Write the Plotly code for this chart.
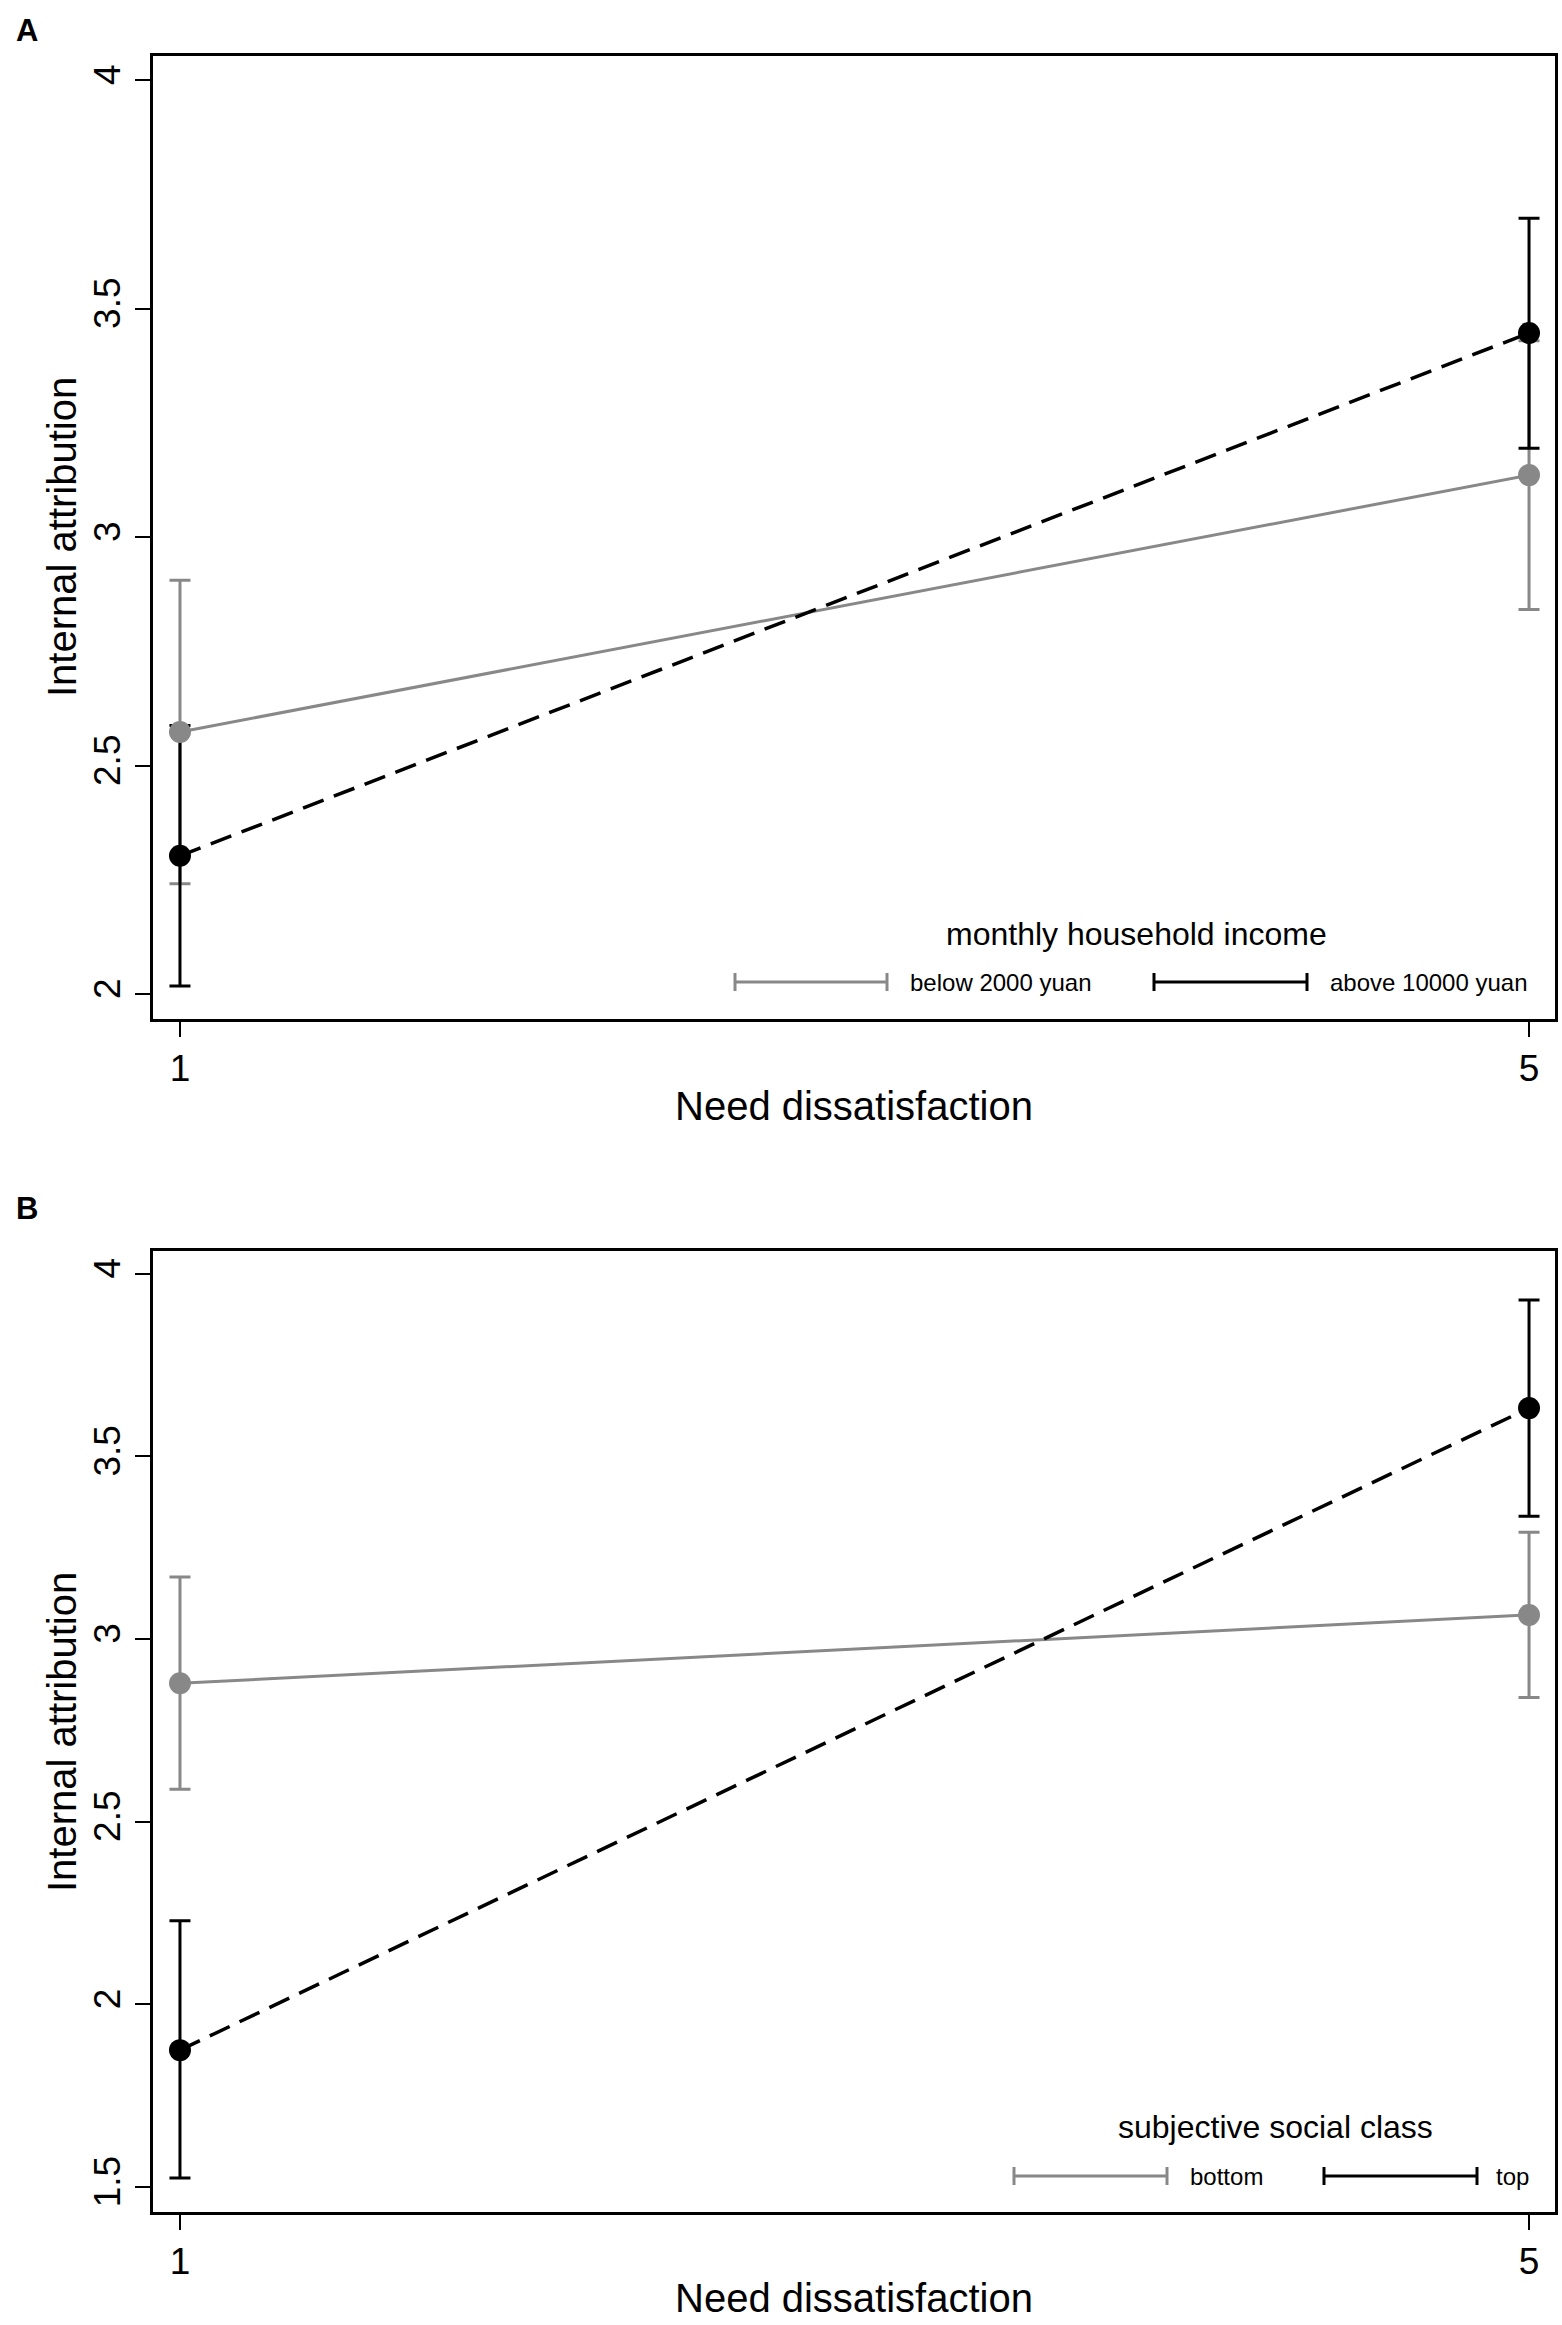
import plotly.graph_objects as go

# ---------------- data ----------------
x_levels = [1, 5]
x_tick_labels = ["1", "5"]

# Panel A: monthly household income
a_low_mean = [2.574, 3.136]
a_low_lo = [2.242, 2.842]
a_low_hi = [2.906, 3.430]
a_high_mean = [2.303, 3.447]
a_high_lo = [2.018, 3.195]
a_high_hi = [2.588, 3.698]
a_y_ticks = [2, 2.5, 3, 3.5, 4]
a_y_tick_labels = ["2", "2.5", "3", "3.5", "4"]

# Panel B: subjective social class
b_low_mean = [2.879, 3.066]
b_low_lo = [2.589, 2.840]
b_low_hi = [3.170, 3.292]
b_high_mean = [1.875, 3.632]
b_high_lo = [1.525, 3.336]
b_high_hi = [2.229, 3.928]
b_y_ticks = [1.5, 2, 2.5, 3, 3.5, 4]
b_y_tick_labels = ["1.5", "2", "2.5", "3", "3.5", "4"]

a_legend_title = "monthly household income"
a_legend_labels = ["below 2000 yuan", "above 10000 yuan"]
b_legend_title = "subjective social class"
b_legend_labels = ["bottom", "top"]

x_title = "Need dissatisfaction"
y_title = "Internal attribution"

# ---------------- styling ----------------
W, H = 1562, 2325
GRAY = "#888888"
BLACK = "#000000"
FONT = "Liberation Sans, Arial, sans-serif"


def px(x):
    return x / W


def py(y):
    return 1 - y / H


fig = go.Figure()


def add_panel(xa, ya, low_m, low_lo, low_hi, high_m, high_lo, high_hi):
    # error bars first (drawn beneath the lines and markers)
    for m, lo, hi, col in [(low_m, low_lo, low_hi, GRAY), (high_m, high_lo, high_hi, BLACK)]:
        fig.add_trace(go.Scatter(
            x=x_levels, y=m, mode="markers", xaxis=xa, yaxis=ya,
            marker=dict(size=1, color="rgba(0,0,0,0)"),
            error_y=dict(type="data", symmetric=False,
                         array=[h - v for h, v in zip(hi, m)],
                         arrayminus=[v - l for v, l in zip(m, lo)],
                         color=col, thickness=3, width=10.5),
            hoverinfo="skip", showlegend=False))
    fig.add_trace(go.Scatter(
        x=x_levels, y=low_m, mode="lines+markers", xaxis=xa, yaxis=ya,
        line=dict(color=GRAY, width=3),
        marker=dict(color=GRAY, size=22), showlegend=False))
    fig.add_trace(go.Scatter(
        x=x_levels, y=high_m, mode="lines+markers", xaxis=xa, yaxis=ya,
        line=dict(color=BLACK, width=3.5, dash="22px,11px"),
        marker=dict(color=BLACK, size=22), showlegend=False))


add_panel("x", "y", a_low_mean, a_low_lo, a_low_hi, a_high_mean, a_high_lo, a_high_hi)
add_panel("x2", "y2", b_low_mean, b_low_lo, b_low_hi, b_high_mean, b_high_lo, b_high_hi)

xdom = [px(153), px(1555)]
axis_common = dict(showline=True, mirror=True, linecolor="black", linewidth=2.5,
                   showgrid=False, zeroline=False, ticks="outside", ticklen=15,
                   tickwidth=2, tickcolor="black",
                   tickfont=dict(family=FONT, size=37, color="black"))

fig.update_layout(
    width=W, height=H,
    margin=dict(l=0, r=0, t=0, b=0),
    paper_bgcolor="white", plot_bgcolor="white",
    showlegend=False,
    xaxis=dict(domain=xdom, range=[0.92, 5.077], anchor="y",
               tickvals=x_levels, ticktext=x_tick_labels, **axis_common),
    yaxis=dict(domain=[py(1019), py(56)], range=[1.946, 4.053], anchor="x",
               tickvals=a_y_ticks, ticktext=a_y_tick_labels, tickangle=-90,
               **axis_common),
    xaxis2=dict(domain=xdom, range=[0.92, 5.077], anchor="y2",
                tickvals=x_levels, ticktext=x_tick_labels, **axis_common),
    yaxis2=dict(domain=[py(2212), py(1251)], range=[1.432, 4.062], anchor="x2",
                tickvals=b_y_ticks, ticktext=b_y_tick_labels, tickangle=-90,
                **axis_common),
)

annotations = []
shapes = []

# panel letters
annotations.append(dict(text="<b>A</b>", x=px(27), y=py(31), xref="paper", yref="paper",
                        showarrow=False, font=dict(family=FONT, size=31, color="black"),
                        xanchor="center", yanchor="middle"))
annotations.append(dict(text="<b>B</b>", x=px(27), y=py(1208), xref="paper", yref="paper",
                        showarrow=False, font=dict(family=FONT, size=31, color="black"),
                        xanchor="center", yanchor="middle"))

# axis titles
for yc, xt_y in [(537, 1106), (1732, 2298)]:
    annotations.append(dict(text=y_title, x=px(62), y=py(yc), xref="paper", yref="paper",
                            showarrow=False, textangle=-90,
                            font=dict(family=FONT, size=40, color="black"),
                            xanchor="center", yanchor="middle"))
    annotations.append(dict(text=x_title, x=px(854), y=py(xt_y), xref="paper", yref="paper",
                            showarrow=False, font=dict(family=FONT, size=40, color="black"),
                            xanchor="center", yanchor="middle"))


def legend_entry(x0, x1, yy, col, label, tx):
    shapes.append(dict(type="line", xref="paper", yref="paper", x0=px(x0), x1=px(x1),
                       y0=py(yy), y1=py(yy), line=dict(color=col, width=3)))
    for xe in (x0, x1):
        shapes.append(dict(type="line", xref="paper", yref="paper", x0=px(xe), x1=px(xe),
                           y0=py(yy - 9), y1=py(yy + 9), line=dict(color=col, width=3)))
    annotations.append(dict(text=label, x=px(tx), y=py(yy), xref="paper", yref="paper",
                            showarrow=False, font=dict(family=FONT, size=24, color="black"),
                            xanchor="left", yanchor="middle"))


# legend A
annotations.append(dict(text=a_legend_title, x=px(1136), y=py(934), xref="paper", yref="paper",
                        showarrow=False, font=dict(family=FONT, size=32, color="black"),
                        xanchor="center", yanchor="middle"))
legend_entry(735, 887, 982, GRAY, a_legend_labels[0], 908)
legend_entry(1154, 1307, 982, BLACK, a_legend_labels[1], 1328)

# legend B
annotations.append(dict(text=b_legend_title, x=px(1275), y=py(2127), xref="paper", yref="paper",
                        showarrow=False, font=dict(family=FONT, size=32, color="black"),
                        xanchor="center", yanchor="middle"))
legend_entry(1014, 1167, 2176, GRAY, b_legend_labels[0], 1188)
legend_entry(1324, 1477, 2176, BLACK, b_legend_labels[1], 1494)

fig.update_layout(annotations=annotations, shapes=shapes)

fig.write_html("out.html", config={"displayModeBar": False},
               post_script="document.body.style.margin='0px';")
